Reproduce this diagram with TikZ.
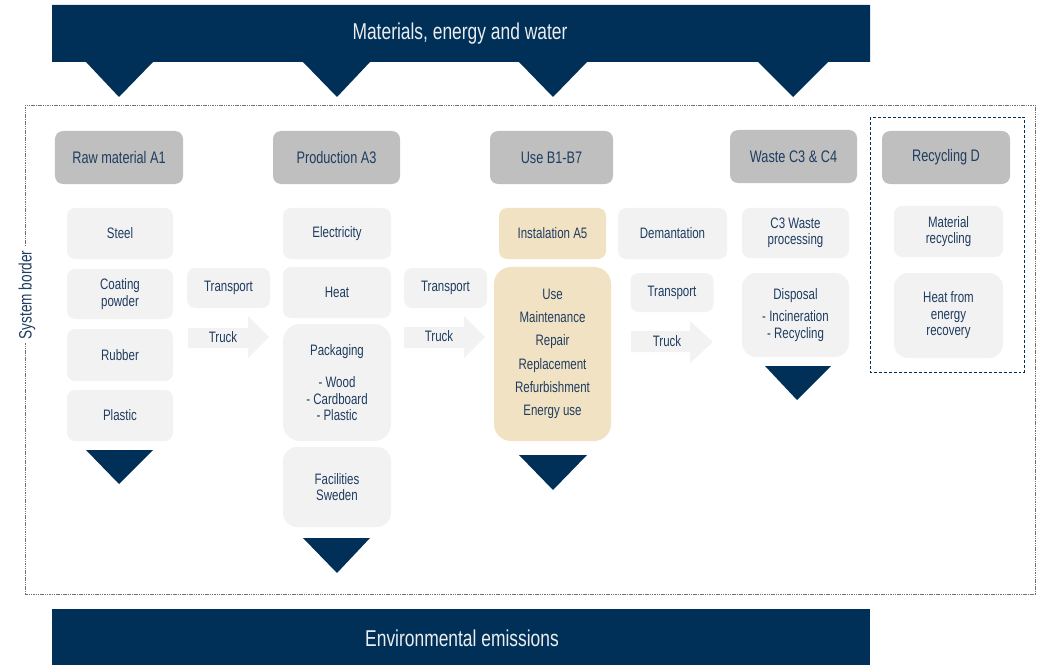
\documentclass[tikz,border=0pt]{standalone}
\usepackage{fontspec}
\setmainfont{Liberation Sans}[FakeStretch=0.76]
\definecolor{navy}{HTML}{003057}
\definecolor{hdr}{HTML}{BFBFBF}
\definecolor{lt}{HTML}{F2F2F2}
\definecolor{beige}{HTML}{F2E2C4}
\definecolor{txt}{HTML}{1F3D60}
\definecolor{bordergray}{HTML}{6F6F6F}
\begin{document}
\begin{tikzpicture}[x=1bp,y=-1bp,
  base/.style={inner sep=0pt, align=center, text=txt},
  hdrbox/.style={base, fill=hdr, rounded corners=8bp, font=\fontsize{16.8}{19}\selectfont},
  ltbox/.style={base, fill=lt, rounded corners=8bp, font=\fontsize{15.2}{16.5}\selectfont},
  bgbox/.style={base, fill=beige, rounded corners=8bp, font=\fontsize{15.2}{16.5}\selectfont},
  bigr/.style={rounded corners=17bp},
  midr/.style={rounded corners=14bp},
  tri/.style={fill=navy},
  truckarrow/.style={fill=lt},
  bannertext/.style={text=white!92!navy, font=\fontsize{23}{26}\selectfont, inner sep=0pt},
  plaintext/.style={base, font=\fontsize{15.2}{16.5}\selectfont}
]
\useasboundingbox (0,0) rectangle (1039,665);

% top banner with pointers
\fill[navy] (52,5) -- (870,5) -- (870,62) -- (828,62) -- (793,97) -- (758,62)
  -- (587,62) -- (553,97) -- (519,62) -- (370,62) -- (337,97) -- (303,62)
  -- (153,62) -- (119,97) -- (86,62) -- (52,62) -- cycle;
\node[bannertext] (topt) at (460,34) {Materials, energy and water};

% system border
\draw[bordergray, line width=0.9pt, dash pattern=on 1.5pt off 0.8pt] (25,105) rectangle (1035,594);
\node[base, fill=white, rotate=90, font=\fontsize{18}{20}\selectfont, inner sep=4bp] (sysb) at (27,295) {System border};

% recycling dashed box
\draw[navy, line width=0.8pt, dash pattern=on 3pt off 2pt] (870,117) rectangle (1024,372);

% headers
\node[hdrbox, minimum width=128bp, minimum height=53bp] (raw) at (119,157.5) {Raw material A1};
\node[hdrbox, minimum width=127bp, minimum height=53bp] (prod) at (336.5,157.5) {Production A3};
\node[hdrbox, minimum width=123bp, minimum height=53bp] (use) at (551.5,157.5) {Use B1-B7};
\node[hdrbox, minimum width=127bp, minimum height=53bp] (waste) at (793.5,156.5) {Waste C3 \& C4};
\node[hdrbox, minimum width=128bp, minimum height=53bp] (recyc) at (946,157.5) {Recycling D};

% column 1
\node[ltbox, minimum width=106bp, minimum height=51bp] (steel) at (120,233.5) {Steel};
\node[ltbox, minimum width=106bp, minimum height=50bp] (coat) at (120,294) {Coating\\powder};
\node[ltbox, minimum width=106bp, minimum height=52bp] (rubber) at (120,355) {Rubber};
\node[ltbox, minimum width=106bp, minimum height=51bp] (plastic) at (120,415.5) {Plastic};
\fill[tri] (86,450) -- (153,450) -- (119,484) -- cycle;

% transport 1
\node[ltbox, minimum width=83bp, minimum height=40bp] (tr1) at (228.5,288) {Transport};
\fill[truckarrow] (188,328) -- (248,328) -- (248,316) -- (269,337) -- (248,358) -- (248,348) -- (188,348) -- cycle;
\node[plaintext] (truck1) at (223,337) {Truck};

% column 2
\node[ltbox, minimum width=108bp, minimum height=51bp] (elec) at (337,233.5) {Electricity};
\node[ltbox, minimum width=108bp, minimum height=51bp] (heat) at (337,292.5) {Heat};
\node[ltbox, bigr, minimum width=108bp, minimum height=117bp] (pack) at (337,382.5) {Packaging\\[16.5bp]- Wood\\- Cardboard\\- Plastic};
\node[ltbox, midr, minimum width=108bp, minimum height=80bp] (fac) at (337,487) {Facilities\\Sweden};
\fill[tri] (303,538) -- (370,538) -- (337,573) -- cycle;

% transport 2
\node[ltbox, minimum width=83bp, minimum height=40bp] (tr2) at (445.5,288) {Transport};
\fill[truckarrow] (404,327) -- (464,327) -- (464,316) -- (485,337) -- (464,358) -- (464,348) -- (404,348) -- cycle;
\node[plaintext] (truck2) at (439,336) {Truck};

% column 3
\node[bgbox, minimum width=107bp, minimum height=51bp] (inst) at (552.5,233.5) {Instalation A5};
\node[bgbox, bigr, minimum width=117bp, minimum height=174bp, font=\fontsize{15.2}{23.4}\selectfont] (usebig) at (552.5,354) {Use\\Maintenance\\Repair\\Replacement\\Refurbishment\\Energy use};
\fill[tri] (519,455) -- (587,455) -- (553,490) -- cycle;

% demantation / transport 3
\node[ltbox, minimum width=109bp, minimum height=51bp] (dem) at (672.5,233.5) {Demantation};
\node[ltbox, minimum width=83bp, minimum height=39bp] (tr3) at (672,292.5) {Transport};
\fill[truckarrow] (631,331) -- (690,331) -- (690,321) -- (713,342) -- (690,363) -- (690,352) -- (631,352) -- cycle;
\node[plaintext] (truck3) at (667,341) {Truck};

% column 4
\node[ltbox, minimum width=107bp, minimum height=50bp] (c3) at (795.5,233) {C3 Waste\\processing};
\node[ltbox, midr, minimum width=107bp, minimum height=84bp] (disp) at (795.5,315) {Disposal\\[6bp]- Incineration\\- Recycling};
\fill[tri] (765,366) -- (831,366) -- (797,400) -- cycle;

% recycling column
\node[ltbox, minimum width=109bp, minimum height=51bp] (matrec) at (948.5,231.5) {Material\\recycling};
\node[ltbox, midr, minimum width=109bp, minimum height=85bp] (heatrec) at (948.5,315.5) {Heat from\\energy\\recovery};

% bottom banner
\fill[navy] (52,609) rectangle (870,665);
\node[bannertext] (bott) at (462,638) {Environmental emissions};
\end{tikzpicture}
\end{document}
